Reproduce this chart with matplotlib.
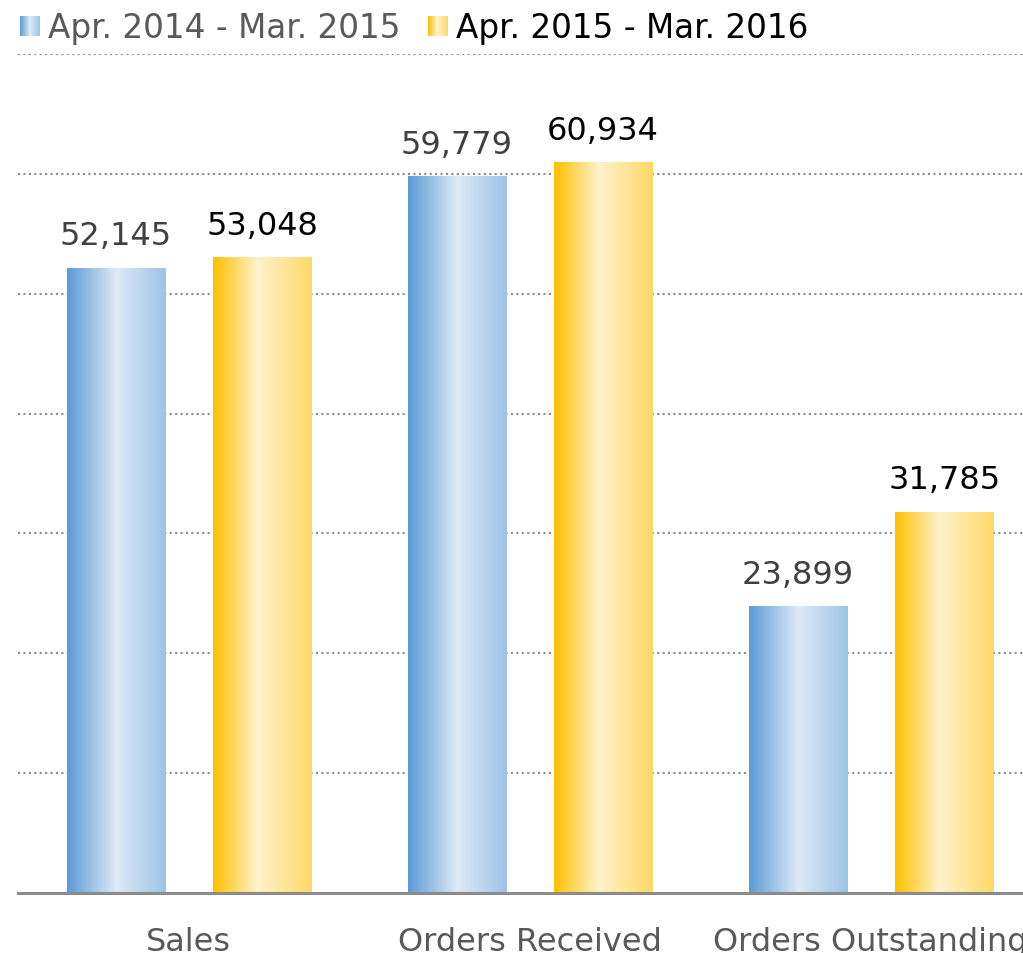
import numpy as np
import matplotlib.pyplot as plt
from matplotlib.colors import LinearSegmentedColormap

categories = ['Sales', 'Orders Received', 'Orders Outstanding']
series_names = ['Apr. 2014 - Mar. 2015', 'Apr. 2015 - Mar. 2016']
values_2014 = [52145, 59779, 23899]
values_2015 = [53048, 60934, 31785]

blue_cmap = LinearSegmentedColormap.from_list(
    'blue', [(0, '#5b9bd5'), (0.5, '#deeaf6'), (1, '#9dc3e6')])
gold_cmap = LinearSegmentedColormap.from_list(
    'gold', [(0, '#ffc000'), (0.45, '#fff2cc'), (1, '#ffd966')])
grad = np.linspace(0, 1, 256).reshape(1, -1)

fig = plt.figure(figsize=(10.23, 9.54), dpi=100)
W, H = 1023, 954
# axes runs off the right edge like the original crop
ax = fig.add_axes([18 / W, (H - 894) / H, 1023 / W, (894 - 55) / H])

x = np.arange(len(categories))
width = 0.288
offs = [-0.213, 0.216]
cmaps = [blue_cmap, gold_cmap]
label_colors = ['#404040', '#000000']

for k, vals in enumerate([values_2014, values_2015]):
    for i, v in enumerate(vals):
        left = x[i] + offs[k] - width / 2
        ax.imshow(grad, cmap=cmaps[k], aspect='auto', interpolation='bicubic',
                  extent=(left, left + width, 0, v), zorder=2)
        ax.annotate(f'{v:,}', xy=(x[i] + offs[k], v), xytext=(0, 17),
                    textcoords='offset points', ha='center', va='baseline',
                    fontsize=23, color=label_colors[k])

ax.set_xlim(-0.5, 2.5)
ax.set_ylim(0, 70000)
for y in range(10000, 70001, 10000):
    ax.axhline(y, color='#8c8c8c', lw=1.5, ls=(0, (1, 1.6)), zorder=1)
ax.axhline(0, color='#8c8c8c', lw=2.2, zorder=3, clip_on=False)
ax.axis('off')

for i, c in enumerate(categories):
    ax.annotate(c, xy=(x[i], 0), xycoords=('data', 'data'),
                xytext=(0, -41), textcoords='offset points',
                ha='center', va='baseline', fontsize=23, color='#595959')

# legend drawn by hand
leg_items = [(20, series_names[0], '#595959'), (428, series_names[1], '#000000')]
for k, (lx, name, col) in enumerate(leg_items):
    sq = fig.add_axes([lx / W, (H - 37) / H, 20 / W, 20 / H])
    sq.imshow(grad, cmap=cmaps[k], aspect='auto')
    sq.axis('off')
    fig.text((lx + 28) / W, (H - 38) / H, name, fontsize=23.5, color=col,
             ha='left', va='baseline')

fig.savefig('out.png', dpi=100)
